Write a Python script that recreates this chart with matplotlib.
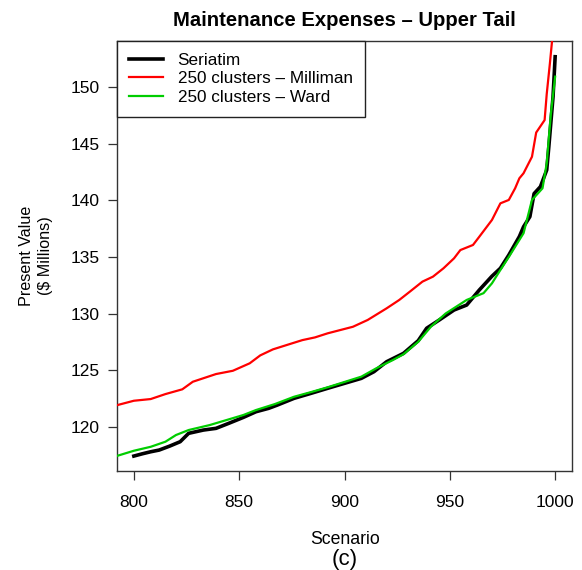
import matplotlib
matplotlib.use("Agg")
import matplotlib.pyplot as plt

plt.rcParams['font.family'] = ['Liberation Sans', 'DejaVu Sans']

title = "Maintenance Expenses \u2013 Upper Tail"
series_names = ["Seriatim", "250 clusters \u2013 Milliman", "250 clusters \u2013 Ward"]

seriatim_x = [800, 804, 808, 812, 817, 822, 826, 833, 839, 845, 852, 858, 864, 868,
              876, 884, 892, 900, 908, 914, 920, 928, 935, 939, 945, 952, 958, 964,
              970, 974, 978, 983, 985, 988, 990, 993, 996, 997, 999, 1000]
seriatim_y = [117.4, 117.6, 117.78, 117.93, 118.28, 118.67, 119.41, 119.7, 119.85, 120.29,
              120.82, 121.32, 121.62, 121.9, 122.5, 122.94, 123.39, 123.83, 124.27, 124.86,
              125.74, 126.48, 127.6, 128.7, 129.43, 130.31, 130.75, 132.08, 133.3, 134.0,
              135.17, 136.8, 137.67, 138.56, 140.6, 141.21, 142.69, 144.75, 149.17, 152.7]

milliman_x = [790, 800, 808, 815, 823, 828, 839, 847, 855, 860, 866, 874, 880, 886, 892,
              904, 911, 920, 926, 931, 937, 942, 947, 952, 955, 961, 964, 970, 974, 978,
              981, 983, 985, 989, 991, 995, 996, 997.5, 999, 1000]
milliman_y = [121.8, 122.29, 122.44, 122.88, 123.3, 123.97, 124.65, 124.94, 125.6, 126.3,
              126.83, 127.3, 127.65, 127.89, 128.25, 128.83, 129.43, 130.46, 131.2, 131.93,
              132.82, 133.26, 134.0, 134.88, 135.61, 136.06, 136.79, 138.27, 139.74, 140.04,
              141.07, 141.95, 142.4, 143.86, 146.0, 147.1, 149.4, 152.1, 155.0, 157.0]

ward_x = [790, 800, 808, 815, 820, 826, 836, 845, 852, 858, 867, 876, 884, 892, 900, 908,
          915, 923, 928, 935, 941, 948, 958, 966, 970, 974, 978, 982, 985, 989, 994, 996,
          998, 1000]
ward_y = [117.3, 117.87, 118.22, 118.67, 119.26, 119.7, 120.14, 120.64, 121.03, 121.47,
          122.0, 122.64, 123.05, 123.48, 123.95, 124.42, 125.15, 125.89, 126.4, 127.5,
          128.83, 130.0, 131.2, 131.8, 132.67, 133.85, 135.0, 136.2, 137.1, 140.04, 141.07,
          143.28, 147.7, 150.94]

x_ticks = [800, 850, 900, 950, 1000]
y_ticks = [120, 125, 130, 135, 140, 145, 150]

fig = plt.figure(figsize=(5.82, 5.70), dpi=100)
ax = fig.add_axes([117/582, 1 - 471/570, (572-117)/582, (471-41)/570])

ax.plot(seriatim_x, seriatim_y, color='black', lw=2.6, label=series_names[0], zorder=3)
ax.plot(milliman_x, milliman_y, color='#ff0000', lw=1.6, label=series_names[1], zorder=4)
ax.plot(ward_x, ward_y, color='#00cd00', lw=1.6, label=series_names[2], zorder=4)

ax.set_xlim(792, 1008)
ax.set_ylim(116.08, 154.09)
ax.set_xticks(x_ticks)
ax.set_yticks(y_ticks)
for s in ax.spines.values():
    s.set_color('#333333')
    s.set_linewidth(1.0)
ax.tick_params(axis='both', direction='out', length=6.5, width=0.9, color='#333333',
               labelsize=12.5)
ax.tick_params(axis='x', pad=11)
ax.tick_params(axis='y', pad=6)

leg = ax.legend(loc='upper left', borderaxespad=0, fontsize=12.3, frameon=True,
                fancybox=False, handlelength=2.0, handletextpad=0.85,
                borderpad=0.7, labelspacing=0.2)
leg.get_frame().set_edgecolor('#222222')
leg.get_frame().set_linewidth(1.0)
leg.get_frame().set_alpha(1)

fig.text((117+572)/2/582, 1 - 21/570, title, ha='center', va='center',
         fontsize=14.6, fontweight='bold')
fig.text(345/582, 1 - 540/570, "Scenario", ha='center', va='center', fontsize=12.7)
fig.text(345/582, 1 - 560/570, "(c)", ha='center', va='center', fontsize=16)
fig.text(36/582, 1 - 256/570, "Present Value\n($ Millions)", ha='center', va='center',
         rotation=90, fontsize=11.6, linespacing=1.4)

fig.savefig("out.png", dpi=100)
